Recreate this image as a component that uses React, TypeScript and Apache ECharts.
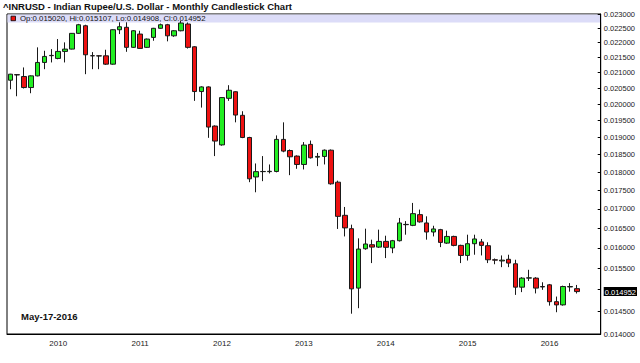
import React, { useEffect, useRef } from "react";
import * as echarts from "echarts";

const FONT = 'Arial, "Liberation Sans", sans-serif';

const titleText = "^INRUSD - Indian Rupee/U.S. Dollar - Monthly Candlestick Chart";
const legendText = "Op:0.015020, Hi:0.015107, Lo:0.014908, Cl:0.014952";
const dateText = "May-17-2016";

// months: Jun 2009 .. May 2016, plus 3 empty months of right padding
const startYear = 2009;
const startMonth = 6;
const monthCount = 84;
const padMonths = 3;

const opens = [
  0.020755, 0.020935, 0.020875, 0.020520, 0.020895, 0.021335, 0.021560,
  0.021468, 0.021703, 0.021781, 0.022320, 0.022585, 0.021560, 0.021555, 0.021555, 0.021278, 0.022445, 0.022530, 0.021840,
  0.022295, 0.021840, 0.022180, 0.022495, 0.022620, 0.022235, 0.022410, 0.022645, 0.021860, 0.020393, 0.020540, 0.019330,
  0.018773, 0.020180, 0.020387, 0.019655, 0.018990, 0.017862, 0.018010, 0.018010, 0.018015, 0.018934, 0.018610, 0.018450,
  0.018212, 0.018788, 0.018420, 0.018440, 0.018620, 0.017718, 0.016830, 0.016485, 0.015033, 0.015980, 0.016080, 0.016020,
  0.016163, 0.016000, 0.016180, 0.016588, 0.016570, 0.016848, 0.016632, 0.016400, 0.016460, 0.016120, 0.016288, 0.016063,
  0.015815, 0.016105, 0.016150, 0.016055, 0.015709, 0.015680, 0.015720, 0.015611, 0.015055, 0.015268, 0.015268, 0.015070,
  0.015110, 0.014720, 0.014647, 0.015060, 0.015020,
];
const highs = [
  0.020960, 0.020950, 0.021170, 0.020910, 0.021840, 0.021725, 0.021781,
  0.022123, 0.022010, 0.022330, 0.022650, 0.022620, 0.021680, 0.021570, 0.021760, 0.022460, 0.022705, 0.022705, 0.022430,
  0.022410, 0.022140, 0.022510, 0.022660, 0.022650, 0.022430, 0.022760, 0.022700, 0.021880, 0.020560, 0.020560, 0.019350,
  0.020220, 0.020595, 0.020400, 0.019780, 0.019010, 0.018240, 0.018450, 0.018212, 0.019052, 0.019442, 0.018640, 0.018470,
  0.018855, 0.018900, 0.018540, 0.018640, 0.018640, 0.017760, 0.017050, 0.016588, 0.016240, 0.016485, 0.016206, 0.016460,
  0.016306, 0.016200, 0.016762, 0.016680, 0.017157, 0.016980, 0.016804, 0.016560, 0.016480, 0.016434, 0.016306, 0.016080,
  0.016332, 0.016332, 0.016224, 0.016140, 0.015740, 0.015815, 0.015832, 0.015709, 0.015290, 0.015466, 0.015290, 0.015170,
  0.015130, 0.014837, 0.015090, 0.015150, 0.015107,
];
const lows = [
  0.020466, 0.020245, 0.020490, 0.020340, 0.020880, 0.021113, 0.021335,
  0.021440, 0.021335, 0.021770, 0.022300, 0.020950, 0.021113, 0.021113, 0.021250, 0.021260, 0.022295, 0.021690, 0.021820,
  0.021790, 0.021820, 0.022065, 0.022480, 0.022045, 0.022200, 0.022390, 0.021800, 0.020100, 0.019892, 0.018980, 0.018450,
  0.018750, 0.020100, 0.019442, 0.018970, 0.017718, 0.017443, 0.017746, 0.017960, 0.017990, 0.018560, 0.017912, 0.018090,
  0.018071, 0.018380, 0.018165, 0.018212, 0.017650, 0.016478, 0.016288, 0.014448, 0.014572, 0.015955, 0.015628, 0.016000,
  0.015750, 0.015870, 0.016160, 0.016332, 0.016550, 0.016640, 0.016206, 0.016288, 0.016020, 0.016100, 0.016040, 0.015628,
  0.015690, 0.015832, 0.015815, 0.015628, 0.015600, 0.015530, 0.015530, 0.014876, 0.014940, 0.015200, 0.014910, 0.014993,
  0.014630, 0.014481, 0.014630, 0.014950, 0.014908,
];
const closes = [
  0.020950, 0.020925, 0.020520, 0.020895, 0.021335, 0.021535, 0.021570,
  0.021703, 0.021781, 0.022320, 0.022620, 0.021590, 0.021555, 0.021550, 0.021278, 0.022445, 0.022550, 0.021840, 0.022410,
  0.021805, 0.022123, 0.022495, 0.022620, 0.022235, 0.022410, 0.022680, 0.021840, 0.020393, 0.020540, 0.019300, 0.018885,
  0.020203, 0.020434, 0.019663, 0.018990, 0.017811, 0.018010, 0.018015, 0.018020, 0.018934, 0.018593, 0.018430, 0.018212,
  0.018768, 0.018402, 0.018440, 0.018620, 0.017673, 0.016803, 0.016505, 0.015016, 0.015972, 0.016098, 0.016020, 0.016163,
  0.016015, 0.016180, 0.016632, 0.016595, 0.016874, 0.016660, 0.016400, 0.016478, 0.016138, 0.016288, 0.016063, 0.015815,
  0.016105, 0.016224, 0.016063, 0.015709, 0.015700, 0.015700, 0.015628, 0.015055, 0.015268, 0.015275, 0.015033, 0.015060,
  0.014720, 0.014647, 0.015070, 0.015070, 0.014952,
];

const yTicks = [
  0.014, 0.0145, 0.015, 0.0155, 0.016, 0.0165, 0.017, 0.0175, 0.018, 0.0185,
  0.019, 0.0195, 0.02, 0.0205, 0.021, 0.0215, 0.022, 0.0225, 0.023,
];
const yLabelTicks = yTicks.filter((v) => v !== 0.015);
const lastClose = 0.014952;
const yMin = 0.014;
const yMax = 0.023;

function buildCategories(): string[] {
  const out: string[] = [];
  for (let i = 0; i < monthCount + padMonths; i++) {
    const m0 = startMonth - 1 + i;
    const y = startYear + Math.floor(m0 / 12);
    const m = (m0 % 12) + 1;
    out.push(`${y}-${m < 10 ? "0" + m : m}`);
  }
  return out;
}

export default function App() {
  const ref = useRef<HTMLDivElement>(null);
  useEffect(() => {
    if (!ref.current) return;
    const chart = echarts.init(ref.current, undefined, { renderer: "svg" });
    const categories = buildCategories();
    // log-scaled price axis: values are plotted in ln space
    const toAxis = (v: number) => Math.log(v);
    const data = opens.map((o, i) => [
      toAxis(o),
      toAxis(closes[i]),
      toAxis(lows[i]),
      toAxis(highs[i]),
    ]);
    const isJan = (_i: number, v: string) => v.endsWith("-01");
    const option: any = {
      animation: false,
      backgroundColor: "#fff",
      grid: {
        left: 7,
        right: 38,
        top: 14,
        bottom: 29,
        show: true,
        borderColor: "#000",
        borderWidth: 1,
        backgroundColor: "transparent",
      },
      xAxis: {
        type: "category",
        data: categories,
        boundaryGap: true,
        axisLine: { lineStyle: { color: "#000", width: 1 } },
        axisTick: {
          interval: isJan,
          alignWithLabel: true,
          length: 3,
          lineStyle: { color: "#000" },
        },
        axisLabel: {
          interval: isJan,
          formatter: (v: string) => v.slice(0, 4),
          fontSize: 8,
          color: "#222",
          margin: 5,
          fontFamily: FONT,
        },
        splitLine: { show: false },
      },
      yAxis: {
        type: "value",
        position: "right",
        min: toAxis(yMin),
        max: toAxis(yMax),
        axisLine: { show: true, lineStyle: { color: "#000", width: 1 } },
        axisTick: {
          show: true,
          inside: true,
          length: 3,
          customValues: yTicks.map(toAxis),
          lineStyle: { color: "#000" },
        },
        axisLabel: {
          customValues: [...yLabelTicks, lastClose].map(toAxis),
          formatter: (v: number) => {
            const val = Math.exp(v);
            const s = val.toFixed(6);
            return Math.abs(val - lastClose) < 1e-9 ? `{hl|${s}}` : s;
          },
          fontSize: 7.5,
          color: "#222",
          margin: 3,
          fontFamily: FONT,
          rich: {
            hl: {
              backgroundColor: "#000",
              color: "#fff",
              fontSize: 7.5,
              fontFamily: FONT,
              padding: [1, 1, 0, 1],
            },
          },
        },
        splitLine: { show: false },
      },
      series: [
        {
          type: "candlestick",
          data,
          barWidth: 5,
          itemStyle: {
            color: "#22ee22",
            color0: "#ee1111",
            borderColor: "#1a1a1a",
            borderColor0: "#1a1a1a",
            borderColorDoji: "#1a1a1a",
            borderWidth: 1,
          },
        },
      ],
      graphic: [
        {
          type: "rect",
          shape: { x: 7.5, y: 14.5, width: 594, height: 8 },
          style: { fill: "#dcdcf8" },
          z: 0,
        },
        {
          type: "rect",
          shape: { x: 11, y: 16.2, width: 4.5, height: 4.5 },
          style: { fill: "#ee1111", stroke: "#000", lineWidth: 0.8 },
          z: 0,
        },
        {
          type: "text",
          left: 20,
          top: 14.5,
          style: { text: legendText, font: `7.8px ${FONT}`, fill: "#111" },
          z: 1,
        },
        {
          type: "text",
          left: 3,
          top: 1,
          style: { text: titleText, font: `bold 9.5px ${FONT}`, fill: "#111" },
          z: 1,
        },
        {
          type: "text",
          left: 21,
          top: 311,
          style: { text: dateText, font: `bold 9.5px ${FONT}`, fill: "#111" },
          z: 1,
        },
      ],
    };
    chart.setOption(option);
    return () => chart.dispose();
  }, []);
  return (
    <div
      ref={ref}
      style={{ position: "fixed", left: 0, top: 0, width: 640, height: 363, background: "#fff" }}
    />
  );
}
